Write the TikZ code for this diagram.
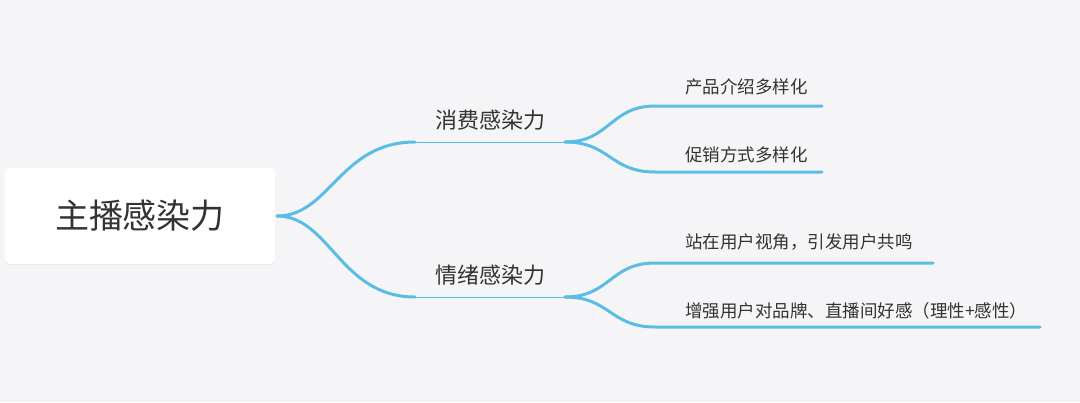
\documentclass[tikz,border=0pt]{standalone}
\usepackage{fontspec}
\setmainfont{Noto Sans CJK SC}
\usetikzlibrary{shadows}
\definecolor{bg}{HTML}{F5F5F7}
\definecolor{br}{HTML}{5BBDE3}
\definecolor{tx}{HTML}{333333}
\begin{document}
\begin{tikzpicture}[x=1pt,y=-1pt,
  curve/.style={br,line width=3pt,line cap=round},
  under/.style={br,line width=1pt},
  lone/.style={font=\fontsize{22}{26}\selectfont,text=tx},
  ltwo/.style={font=\fontsize{17.5}{21}\selectfont,text=tx,anchor=west,inner sep=0pt}]
\fill[bg] (0,0) rectangle (1080,402);
\node[draw=none,fill=white,rounded corners=5pt,minimum width=270pt,minimum height=96pt,
  drop shadow={opacity=0.12,shadow xshift=0pt,shadow yshift=-1pt},
  font=\fontsize{34}{40}\selectfont,text=tx] (root) at (140,216) {主播感染力};
\coordinate (r) at (277,216);
\coordinate (a1) at (415,142); \coordinate (a2) at (565,142);
\coordinate (b1) at (415,297); \coordinate (b2) at (565,297);
\node[lone] (ta) at (490,120) {消费感染力};
\node[lone] (tb) at (490,275) {情绪感染力};
\draw[curve] (r) .. controls (330,216) and (340,142) .. (a1);
\draw[curve] (r) .. controls (330,216) and (340,297) .. (b1);
\draw[under] (a1) -- (a2);
\draw[under] (b1) -- (b2);
\coordinate (c1) at (655,106); \coordinate (c1e) at (822,106);
\coordinate (c2) at (655,172); \coordinate (c2e) at (822,172);
\coordinate (d1) at (655,263); \coordinate (d1e) at (933,263);
\coordinate (d2) at (655,327); \coordinate (d2e) at (1040,327);
\draw[curve] (a2) .. controls (610,142) and (610,106) .. (c1) -- (c1e);
\draw[curve] (a2) .. controls (610,142) and (610,172) .. (c2) -- (c2e);
\draw[curve] (b2) .. controls (610,297) and (610,263) .. (d1) -- (d1e);
\draw[curve] (b2) .. controls (610,297) and (610,327) .. (d2) -- (d2e);
\node[ltwo] (t1) at (685,87) {产品介绍多样化};
\node[ltwo] (t2) at (685,155) {促销方式多样化};
\node[ltwo] (t3) at (685,242) {站在用户视角，引发用户共鸣};
\node[ltwo] (t4) at (685,311) {增强用户对品牌、直播间好感（理性+感性）};
\end{tikzpicture}
\end{document}
